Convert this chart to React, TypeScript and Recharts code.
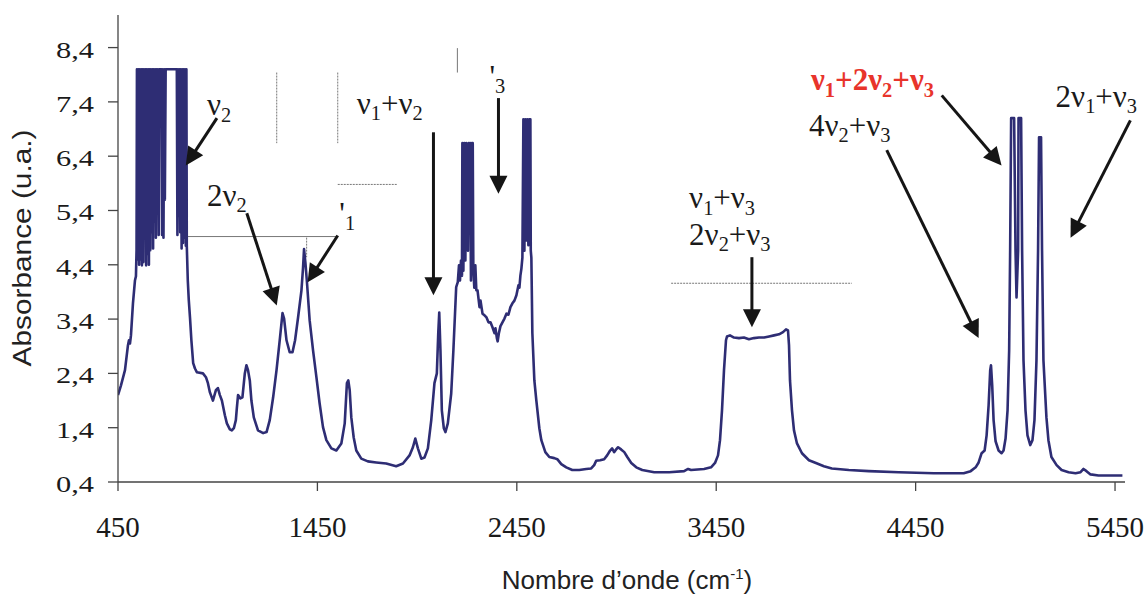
import React from "react";
import { LineChart, Line, XAxis, YAxis, ReferenceLine, ReferenceDot } from "recharts";

// ---- data ----
// rising edge before the saturated ν2 band
const wnStart = [450, 465, 485, 500, 505, 510, 515, 525, 535, 540, 543];
const abStart = [2.0, 2.18, 2.46, 2.92, 3.01, 2.95, 3.1, 3.69, 4.11, 4.19, 4.67];

// saturated (noisy) ν2 band
const wnBand1 = [545, 549, 552, 556, 559, 563, 566, 570, 573, 577, 580, 584, 587, 591, 594, 598, 601, 605, 608, 612, 615, 619, 622, 626, 629, 633, 636, 640, 643, 647, 650, 654, 657, 668, 671, 675, 678, 682, 685, 689, 745, 748, 751, 755, 758, 762, 765, 769, 772, 776, 779, 783, 786, 790, 793];
const abBand1 = [8.0, 4.5, 8.0, 4.4, 8.0, 4.5, 8.0, 4.39, 8.0, 4.45, 8.0, 4.9, 8.0, 4.39, 8.0, 4.6, 8.0, 4.4, 8.0, 4.67, 8.0, 5.0, 8.0, 4.7, 8.0, 5.2, 8.0, 4.9, 8.0, 5.5, 8.0, 4.95, 8.0, 8.0, 4.95, 8.0, 4.9, 8.0, 5.6, 8.0, 8.0, 4.95, 8.0, 5.3, 8.0, 5.0, 8.0, 4.7, 8.0, 4.8, 8.0, 4.9, 8.0, 4.75, 8.0];

// 800 – 2150 cm-1
const wnMid = [795, 800, 805, 811, 818, 827, 836, 846, 876, 891, 901, 911, 926, 941, 951, 961, 971, 986, 996, 1011, 1021, 1031, 1041, 1046, 1052, 1064, 1074, 1086, 1094, 1102, 1111, 1119, 1131, 1152, 1178, 1195, 1211, 1228, 1245, 1261, 1275, 1283, 1295, 1311, 1325, 1338, 1353, 1370, 1378, 1383, 1390, 1398, 1411, 1428, 1445, 1461, 1478, 1495, 1520, 1545, 1570, 1587, 1598, 1605, 1612, 1620, 1632, 1645, 1670, 1703, 1745, 1795, 1845, 1879, 1912, 1929, 1941, 1954, 1971, 1987, 2004, 2021, 2037, 2049, 2056, 2061, 2067, 2074, 2084, 2092, 2104, 2121, 2132, 2146];
const abMid = [4.75, 4.11, 3.75, 3.43, 3.01, 2.59, 2.49, 2.42, 2.4, 2.33, 2.22, 2.05, 1.9, 2.09, 2.13, 2.0, 1.9, 1.63, 1.48, 1.37, 1.35, 1.39, 1.54, 1.76, 2.0, 1.94, 1.96, 2.4, 2.55, 2.46, 2.27, 1.9, 1.59, 1.35, 1.3, 1.32, 1.54, 1.96, 2.46, 3.01, 3.51, 3.41, 3.01, 2.79, 2.79, 3.01, 3.43, 3.93, 4.35, 4.69, 4.43, 4.06, 3.38, 2.83, 2.33, 1.85, 1.41, 1.17, 1.02, 0.98, 1.11, 1.48, 2.22, 2.27, 2.09, 1.59, 1.22, 0.98, 0.83, 0.78, 0.76, 0.74, 0.69, 0.74, 0.89, 1.04, 1.2, 1.02, 0.83, 0.85, 1.02, 1.54, 2.22, 2.4, 3.14, 3.52, 2.83, 1.72, 1.39, 1.32, 1.48, 2.03, 2.83, 3.99];

// ν3 band (2150 – 2525 cm-1)
const wnBand3 = [2154, 2160, 2165, 2170, 2175, 2177, 2182, 2187, 2192, 2197, 2205, 2209, 2212, 2216, 2220, 2225, 2229, 2232, 2237, 2242, 2247, 2253, 2263, 2268, 2278, 2288, 2298, 2308, 2318, 2328, 2338, 2343, 2350, 2354, 2360, 2368, 2378, 2388, 2398, 2408, 2418, 2428, 2438, 2448, 2458, 2463, 2468, 2473, 2478, 2483, 2488, 2493, 2498, 2503, 2508, 2513, 2518, 2520, 2523];
const abBand3 = [4.08, 4.39, 4.11, 4.48, 4.2, 6.64, 4.29, 6.64, 4.48, 6.64, 4.66, 6.64, 5.53, 6.64, 4.11, 6.64, 6.64, 4.29, 3.98, 4.39, 3.93, 3.93, 3.62, 3.74, 3.5, 3.47, 3.43, 3.34, 3.34, 3.25, 3.14, 3.23, 3.05, 2.99, 3.14, 3.27, 3.34, 3.41, 3.5, 3.48, 3.62, 3.69, 3.74, 3.84, 4.02, 3.98, 4.2, 4.33, 4.53, 7.08, 4.66, 7.08, 4.85, 7.08, 4.76, 7.08, 7.08, 4.66, 4.53];

// 2525 – 5490 cm-1
const wnEnd = [2528, 2538, 2548, 2563, 2573, 2593, 2613, 2638, 2653, 2673, 2698, 2728, 2763, 2798, 2823, 2838, 2848, 2868, 2888, 2903, 2918, 2928, 2938, 2948, 2958, 2973, 2989, 3004, 3024, 3049, 3079, 3139, 3214, 3289, 3309, 3324, 3389, 3424, 3444, 3459, 3469, 3479, 3489, 3499, 3504, 3519, 3539, 3564, 3589, 3614, 3639, 3664, 3690, 3715, 3740, 3765, 3785, 3800, 3810, 3815, 3820, 3830, 3840, 3855, 3880, 3915, 3950, 3990, 4030, 4115, 4215, 4365, 4541, 4691, 4726, 4751, 4766, 4781, 4796, 4806, 4816, 4824, 4828, 4834, 4841, 4851, 4866, 4881, 4891, 4901, 4911, 4919, 4924, 4929, 4936, 4944, 4951, 4956, 4964, 4966, 4979, 4984, 4991, 5001, 5011, 5025, 5036, 5046, 5056, 5064, 5069, 5079, 5084, 5091, 5106, 5116, 5131, 5157, 5182, 5217, 5252, 5277, 5292, 5307, 5327, 5367, 5432, 5487];
const abEnd = [3.14, 2.27, 1.9, 1.39, 1.17, 0.95, 0.86, 0.84, 0.82, 0.73, 0.67, 0.62, 0.62, 0.64, 0.65, 0.71, 0.79, 0.8, 0.82, 0.89, 0.98, 1.02, 0.95, 1.0, 1.04, 1.0, 0.95, 0.86, 0.75, 0.67, 0.62, 0.58, 0.58, 0.6, 0.64, 0.62, 0.64, 0.67, 0.75, 0.89, 1.17, 1.72, 2.46, 3.01, 3.08, 3.1, 3.06, 3.05, 3.06, 3.03, 3.05, 3.06, 3.06, 3.08, 3.1, 3.12, 3.16, 3.21, 3.19, 2.92, 2.27, 1.72, 1.35, 1.11, 0.93, 0.8, 0.75, 0.69, 0.65, 0.62, 0.6, 0.58, 0.56, 0.56, 0.6, 0.67, 0.76, 0.93, 0.98, 1.26, 1.81, 2.46, 2.55, 2.18, 1.54, 1.15, 0.98, 0.93, 0.98, 1.2, 1.72, 2.82, 4.66, 7.1, 7.1, 7.1, 4.66, 3.8, 4.66, 7.1, 7.1, 4.66, 2.64, 1.72, 1.26, 1.08, 1.17, 1.54, 2.64, 4.66, 6.75, 6.75, 4.66, 2.64, 1.59, 1.17, 0.86, 0.71, 0.62, 0.58, 0.56, 0.58, 0.64, 0.6, 0.54, 0.52, 0.52, 0.52];

const xTicks = [450, 1450, 2450, 3450, 4450, 5450];
const yTicks = [0.4, 1.4, 2.4, 3.4, 4.4, 5.4, 6.4, 7.4, 8.4];

// annotation texts: "_d" = subscript digit; x = left edge (cm-1), y = baseline (absorbance)
const labelTexts = ["ν_2", "2ν_2", "'_1", "ν_1+ν_2", "'_3", "ν_1+ν_3", "2ν_2+ν_3", "ν_1+2ν_2+ν_3", "4ν_2+ν_3", "2ν_1+ν_3"];
const labelX = [896, 896, 1560, 1647, 2313, 3314, 3314, 3925, 3915, 5152];
const labelY = [7.15, 5.48, 5.16, 7.18, 7.67, 5.44, 4.76, 7.61, 6.78, 7.31];
const labelRed = [false, false, false, false, false, false, false, true, false, false];

// arrows: from (x1,y1) to tip (x2,y2)
const arrowFrom = [[946, 7.1], [1096, 5.35], [1552, 4.94], [2032, 6.84], [2358, 7.47], [3629, 4.54], [4581, 7.52], [4305, 6.51], [5527, 7.06]];
const arrowTo = [[790, 6.23], [1246, 3.65], [1401, 4.08], [2032, 3.84], [2358, 5.71], [3629, 3.25], [4881, 6.23], [4766, 3.05], [5227, 4.9]];

// thin grey guide lines left in the original figure
const guideFrom = [[1246, 7.94], [1552, 7.94], [1552, 5.88], [795, 4.92], [1396, 4.9], [2152, 8.39], [3224, 4.06]];
const guideTo = [[1246, 6.64], [1552, 6.64], [1852, 5.88], [1547, 4.92], [1396, 4.54], [2152, 7.94], [4130, 4.06]];
const guideDashed = [true, true, true, false, true, false, true];

const wavenumber = [...wnStart, ...wnBand1, ...wnMid, ...wnBand3, ...wnEnd];
const absorbance = [...abStart, ...abBand1, ...abMid, ...abBand3, ...abEnd];
const data = wavenumber.map((w, i) => ({ w, a: absorbance[i] }));

const SERIF = "'Liberation Serif', 'Times New Roman', serif";
const SANS = "'Liberation Sans', Arial, sans-serif";
const LABEL_FS = 31;

function richText(text: string, fs: number) {
  const parts: { s: string; sub: boolean }[] = [];
  for (let i = 0; i < text.length; i++) {
    const c = text[i];
    if (c === "_") {
      i++;
      parts.push({ s: text[i], sub: true });
    } else parts.push({ s: c, sub: false });
  }
  let prevSub = false;
  return parts.map((p, k) => {
    let dy = 0;
    if (p.sub && !prevSub) dy = 0.2 * fs;
    else if (!p.sub && prevSub) dy = -0.2 * fs;
    prevSub = p.sub;
    return (
      <tspan key={k} dy={dy} fontSize={p.sub ? fs * 0.66 : fs}>
        {p.s}
      </tspan>
    );
  });
}

const ArrowShape = (props: any) => {
  const { x1, y1, x2, y2 } = props;
  const dx = x2 - x1;
  const dy = y2 - y1;
  const len = Math.sqrt(dx * dx + dy * dy) || 1;
  const ux = dx / len;
  const uy = dy / len;
  const hl = 18;
  const hw = 9;
  const bx = x2 - ux * hl;
  const by = y2 - uy * hl;
  const pts = `${x2},${y2} ${bx - uy * hw},${by + ux * hw} ${bx + uy * hw},${by - ux * hw}`;
  return (
    <g>
      <line x1={x1} y1={y1} x2={bx + ux * 2} y2={by + uy * 2} stroke="#151515" strokeWidth={3} />
      <polygon points={pts} fill="#151515" />
    </g>
  );
};

const XTick = (props: any) => {
  const { x, y, payload } = props;
  return (
    <text x={x} y={y + 46} textAnchor="middle" fontFamily={SERIF} fontSize={29} fill="#1a1a1a">
      {payload.value}
    </text>
  );
};

const YTick = (props: any) => {
  const { x, y, payload } = props;
  const s = String(payload.value.toFixed(1)).replace(".", ",");
  return (
    <text x={x} y={y + 10} textAnchor="end" fontFamily={SERIF} fontSize={24} fill="#1a1a1a" textLength={38} lengthAdjust="spacingAndGlyphs">
      {s}
    </text>
  );
};

export default function App() {
  return (
    <div style={{ position: "absolute", left: 0, top: 0, background: "#fff" }}>
      <LineChart width={1148} height={595} data={data} margin={{ top: 15, right: 23, left: 0, bottom: 0 }}>
        <XAxis
          dataKey="w"
          type="number"
          domain={[450, 5500]}
          ticks={xTicks}
          allowDataOverflow
          height={113}
          tickSize={9}
          tickMargin={0}
          tick={<XTick />}
          stroke="#444"
          strokeWidth={1.3}
          label={{
            content: () => (
              <text x={627} y={589} textAnchor="middle" fontFamily={SANS} fontSize={26} fill="#222">
                Nombre d’onde (cm
                <tspan dy={-10} fontSize={15}>-1</tspan>
                <tspan dy={10}>)</tspan>
              </text>
            ),
          }}
        />
        <YAxis
          type="number"
          domain={[0.4, 9.0]}
          ticks={yTicks}
          allowDataOverflow
          width={118}
          tickSize={10}
          tickMargin={14}
          tick={<YTick />}
          stroke="#444"
          strokeWidth={1.3}
          label={{
            content: () => (
              <text transform="rotate(-90)" x={-248} y={31} textAnchor="middle" fontFamily={SANS} fontSize={25} fill="#222" textLength={237} lengthAdjust="spacingAndGlyphs">
                Absorbance (u.a.)
              </text>
            ),
          }}
        />
        {guideFrom.map((f, i) => (
          <ReferenceLine
            key={"g" + i}
            segment={[{ x: f[0], y: f[1] }, { x: guideTo[i][0], y: guideTo[i][1] }]}
            stroke="#777"
            strokeWidth={1}
            strokeDasharray={guideDashed[i] ? "2 1" : undefined}
            ifOverflow="visible"
          />
        ))}
        <Line type="linear" dataKey="a" stroke="#2e2d74" strokeWidth={2.6} dot={false} isAnimationActive={false} strokeLinejoin="round" />
        {arrowFrom.map((f, i) => (
          <ReferenceLine
            key={"a" + i}
            segment={[{ x: f[0], y: f[1] }, { x: arrowTo[i][0], y: arrowTo[i][1] }]}
            ifOverflow="visible"
            shape={ArrowShape}
          />
        ))}
        {labelTexts.map((t, i) => (
          <ReferenceDot
            key={"l" + i}
            x={labelX[i]}
            y={labelY[i]}
            r={0}
            ifOverflow="visible"
            shape={(p: any) => (
              <text
                x={p.cx}
                y={p.cy}
                fontFamily={SERIF}
                fontSize={LABEL_FS}
                fontWeight={labelRed[i] ? "bold" : "normal"}
                fill={labelRed[i] ? "#e8342b" : "#1a1a1a"}
              >
                {richText(t, LABEL_FS)}
              </text>
            )}
          />
        ))}
      </LineChart>
    </div>
  );
}
